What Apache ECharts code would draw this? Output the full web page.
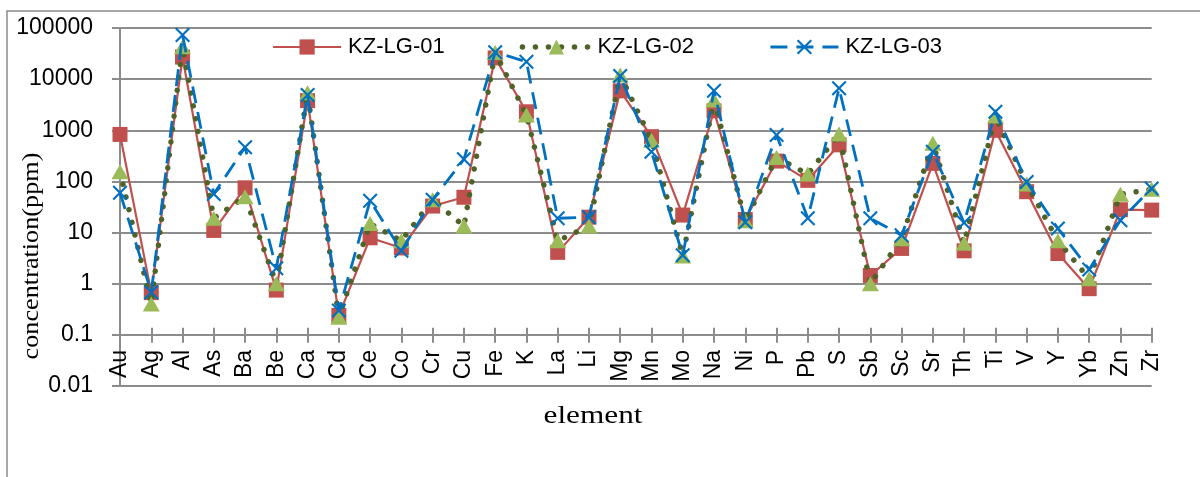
<!DOCTYPE html>
<html>
<head>
<meta charset="utf-8">
<script src="https://cdn.jsdelivr.net/npm/echarts@6/dist/echarts.min.js"></script>
<style>
html,body{margin:0;padding:0;background:#fff;}
#chart{width:1200px;height:477px;}
</style>
</head>
<body>
<div id="chart"></div>
<script>
const categories = ['Au','Ag','Al','As','Ba','Be','Ca','Cd','Ce','Co','Cr','Cu','Fe','K','La','Li','Mg','Mn','Mo','Na','Ni','P','Pb','S','Sb','Sc','Sr','Th','Ti','V','Y','Yb','Zn','Zr'];
const seriesNames = ['KZ-LG-01','KZ-LG-02','KZ-LG-03'];
const kz01 = [830, 0.67, 27000, 11, 75, 0.75, 3800, 0.24, 7.9, 5, 33, 49, 26000, 2300, 4.1, 20, 5900, 750, 22, 2400, 18, 250, 105, 520, 1.45, 4.9, 225, 4.4, 1000, 63, 3.9, 0.8, 28, 27.5];
const kz02 = [155, 0.4, 43000, 19, 50, 1.0, 5400, 0.22, 15, 6.9, 44, 13.4, 33000, 2000, 6.9, 13.4, 12000, 640, 3.5, 3900, 17, 295, 139, 845, 1.0, 7.6, 555, 6.2, 1900, 89, 6.9, 1.25, 56, 70];
const kz03 = [60, 0.68, 73000, 57, 465, 2.0, 4900, 0.30, 42, 4.4, 44, 270, 33500, 22000, 19, 20, 11500, 380, 3.6, 5900, 16, 810, 19, 6600, 19, 8.9, 380, 15.5, 2300, 98, 12, 1.9, 17.5, 73];
const yTickLabels = ['0.01','0.1','1','10','100','1000','10000','100000'];

const chart = echarts.init(document.getElementById('chart'), null, {renderer:'canvas'});
const sans = 'Liberation Sans';
const serif = 'Liberation Serif';
const gridGray = '#8c8c8c';
const xMark = 'path://M0,1.6L1.6,0L8,6.4L14.4,0L16,1.6L9.6,8L16,14.4L14.4,16L8,9.6L1.6,16L0,14.4L6.4,8Z';

function fmt(v){
  const s = Number(v.toPrecision(6)).toString();
  return yTickLabels.indexOf(s) >= 0 ? s : '';
}

const option = {
  backgroundColor: '#fff',
  animation: false,
  grid: {left: 120, right: 48.3, top: 28, bottom: 91, containLabel: false},
  legend: {
    left: 267, top: 31,
    itemWidth: 68, itemHeight: 19, itemGap: 75,
    lineStyle: {width: 'inherit'},
    textStyle: {fontFamily: sans, fontSize: 22, color: '#000', padding: [0,0,0,2]},
    data: seriesNames
  },
  xAxis: [{
    type: 'category', data: categories, boundaryGap: false,
    position: 'bottom', offset: -51.14,
    axisLine: {show: true, lineStyle: {color: gridGray, width: 2}},
    axisTick: {show: true, length: 8, lineStyle: {color: gridGray, width: 2}},
    axisLabel: {interval: 0, rotate: 90, margin: 15, fontFamily: sans, fontSize: 23, color: '#000'},
    splitLine: {show: false}
  },{
    type: 'category', data: categories, boundaryGap: false,
    position: 'bottom', offset: -51.14,
    axisLine: {show: false},
    axisTick: {show: true, inside: true, length: 7, lineStyle: {color: gridGray, width: 2}},
    axisLabel: {show: false},
    splitLine: {show: false}
  }],
  yAxis: {
    type: 'log', logBase: 10, min: 0.01, max: 100000,
    axisLine: {show: true, lineStyle: {color: gridGray, width: 2}},
    axisTick: {show: true, length: 8, lineStyle: {color: gridGray, width: 2}},
    axisLabel: {margin: 27, fontFamily: sans, fontSize: 23, color: '#000', formatter: fmt},
    splitLine: {show: true, lineStyle: {color: gridGray, width: 2}},
    minorTick: {show: false}
  },
  series: [{
    name: seriesNames[0], type: 'line', data: kz01, xAxisIndex: 0,
    symbol: 'rect', symbolSize: 15,
    lineStyle: {color: '#c0504d', width: 2.2},
    itemStyle: {color: '#c0504d'},
    z: 2
  },{
    name: seriesNames[1], type: 'line', data: kz02, xAxisIndex: 0,
    symbol: 'triangle', symbolSize: [17, 15],
    lineStyle: {color: '#4f6228', width: 5.5, type: [0.01, 13], cap: 'round', join: 'round'},
    itemStyle: {color: '#9bbb59'},
    z: 3
  },{
    name: seriesNames[2], type: 'line', data: kz03, xAxisIndex: 0,
    symbol: xMark, symbolSize: 15,
    lineStyle: {color: '#0070c0', width: 2.8, type: [17, 9]},
    itemStyle: {color: '#0070c0'},
    z: 4
  }],
  graphic: [{
    type: 'rect', silent: true, z: -10,
    shape: {x: 7, y: 11, width: 1400, height: 800},
    style: {fill: 'none', stroke: '#8c8c8c', lineWidth: 1.5}
  },{
    type: 'text', x: 32, y: 256, rotation: Math.PI/2, scaleX: 1.14,
    style: {text: 'concentration(ppm)', fontFamily: serif, fontSize: 23, fill: '#000', align: 'center', verticalAlign: 'middle'}
  },{
    type: 'text', x: 593, y: 416, scaleX: 1.25,
    style: {text: 'element', fontFamily: serif, fontSize: 25, fill: '#000', align: 'center', verticalAlign: 'middle'}
  }]
};
chart.setOption(option);
</script>
</body>
</html>
